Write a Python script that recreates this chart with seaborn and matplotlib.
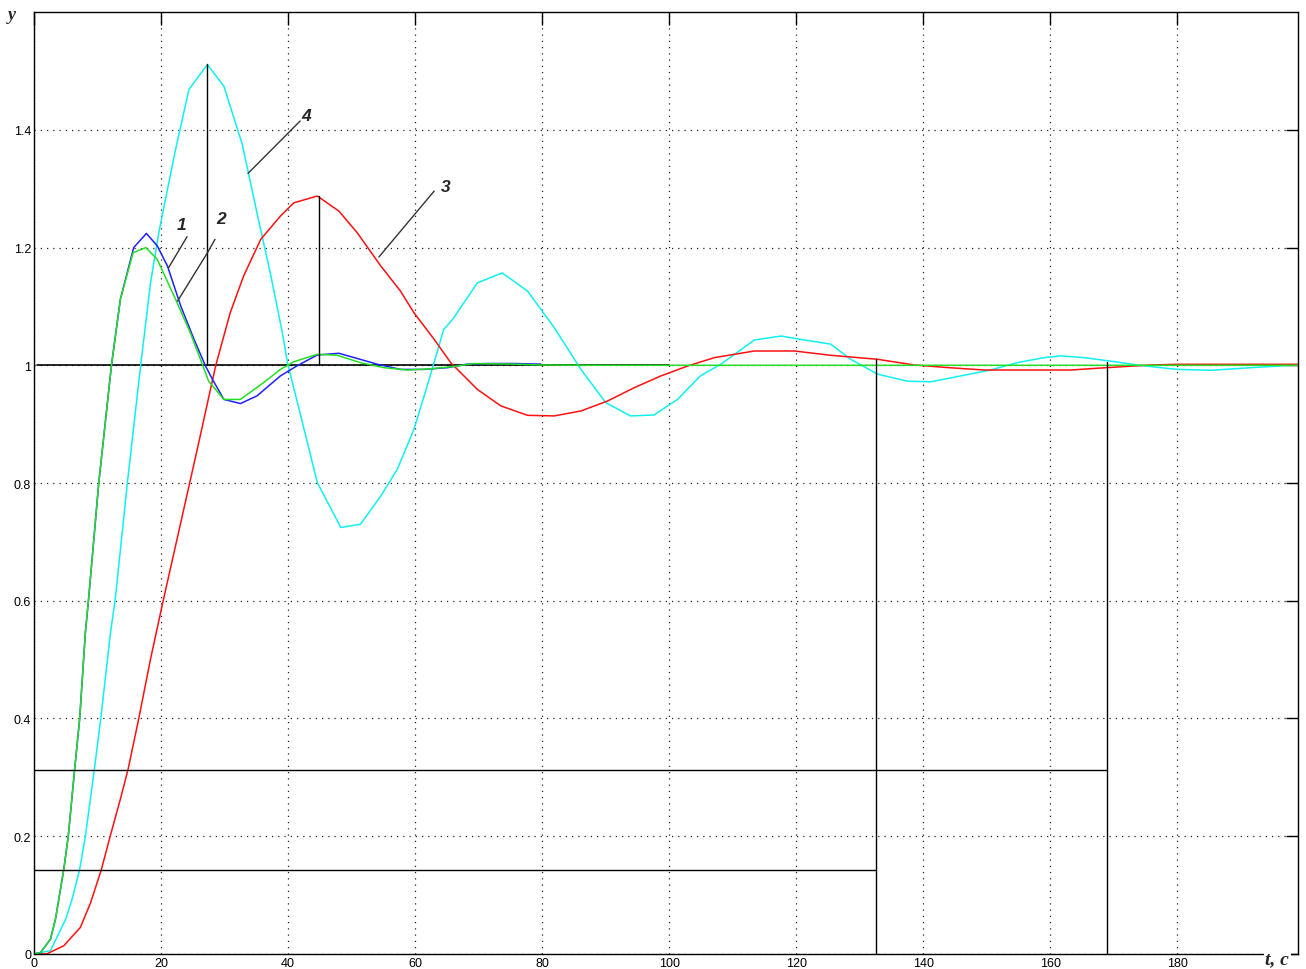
import matplotlib
matplotlib.use("Agg")
import pandas as pd
import matplotlib.pyplot as plt
import seaborn as sns

# ------------------------------
# DATA
# ------------------------------
# curve 1 - blue
t1 = [0, 1, 2.6, 3.4, 4.7, 5.4, 6.4, 7.2, 8.1, 8.6, 10.2, 12.2, 13.6, 15.7,
      17.7, 19.4, 21.0, 23.1, 25.2, 27.0, 28.1, 29.9, 32.5, 35.1, 38.8, 41.4,
      44.6, 48.0, 51.4, 54.0, 57.7, 61.4, 65.1, 68.2, 71.4, 75.6, 79.8]
y1 = [0, 0.002, 0.025, 0.06, 0.144, 0.2, 0.313, 0.40, 0.547, 0.603, 0.80, 1.0,
      1.112, 1.2, 1.224, 1.203, 1.169, 1.101, 1.044, 0.999, 0.976, 0.942,
      0.935, 0.948, 0.982, 0.999, 1.0175, 1.0204, 1.010, 1.002, 0.993, 0.993,
      0.996, 1.002, 1.003, 1.003, 1.002]

# curve 2 - green
t2 = [0, 1, 2.6, 3.4, 4.7, 5.4, 6.4, 7.2, 8.1, 8.6, 10.2, 12.2, 13.6, 15.6,
      17.6, 19.4, 22.3, 24.6, 26.5, 27.5, 29.9, 32.5, 36.2, 38.8, 40.9, 44.6,
      47.7, 51.4, 55.1, 58.8, 62.4, 66.1, 69.3, 75.5, 79.8, 90, 199]
y2 = [0, 0.002, 0.025, 0.06, 0.144, 0.2, 0.313, 0.40, 0.547, 0.603, 0.80, 1.0,
      1.112, 1.191, 1.2, 1.18, 1.112, 1.0555, 1.002, 0.973, 0.942, 0.942,
      0.971, 0.993, 1.006, 1.0187, 1.017, 1.0045, 0.996, 0.992, 0.994, 0.998,
      1.003, 1.002, 1.0005, 1.0, 1.0]

# curve 3 - red
t3 = [0, 2, 4.7, 7.3, 8.9, 10.6, 12.0, 13.6, 14.8, 16.5, 18.35, 20.4, 25.7,
      28.6, 30.9, 33.0, 35.7, 38.8, 40.9, 44.6, 48.0, 50.9, 54.6, 57.7, 59.8,
      63.0, 65.6, 69.8, 73.5, 77.7, 81.9, 86.1, 90.3, 94.5, 98.7, 102.9,
      107.1, 113.4, 119.7, 125.4, 132.8, 138.6, 144.0, 149.6, 154.8, 163.2,
      167.4, 171.6, 175.8, 180.0, 198.9]
y3 = [0, 0, 0.014, 0.045, 0.0866, 0.143, 0.2, 0.263, 0.313, 0.400, 0.501,
      0.603, 0.857, 0.999, 1.0895, 1.1516, 1.214, 1.2535, 1.276, 1.2875,
      1.262, 1.225, 1.1686, 1.126, 1.0895, 1.044, 1.0045, 0.959, 0.931, 0.915,
      0.914, 0.9224, 0.9394, 0.962, 0.982, 0.9988, 1.013, 1.0243, 1.0243,
      1.017, 1.0102, 1.0005, 0.996, 0.992, 0.992, 0.992, 0.995, 0.9978,
      1.0005, 1.0017, 1.0017]

# curve 4 - cyan
t4 = [0, 2.6, 5.0, 6.0, 7.2, 8.1, 9.5, 10.5, 12.05, 12.8, 14.7, 16.8, 18.35,
      19.65, 20.7, 22.3, 24.4, 27.3, 29.9, 32.8, 35.1, 37.2, 39.1, 39.9, 42.0,
      44.6, 48.3, 51.4, 54.6, 57.2, 59.8, 61.9, 64.5, 65.9, 69.8, 73.7, 77.7,
      81.9, 86.1, 90.0, 93.9, 97.6, 101.3, 104.9, 108.1, 113.4, 117.6, 120.7,
      125.4, 128.6, 132.8, 137.5, 141.2, 145.9, 150.6, 154.8, 159.0, 161.6,
      165.3, 169.5, 174.8, 180.0, 185.3, 191.6, 198.9]
y4 = [0, 0.0056, 0.059, 0.093, 0.144, 0.2, 0.313, 0.398, 0.546, 0.603, 0.80,
      1.0, 1.14, 1.225, 1.282, 1.367, 1.4686, 1.511, 1.474, 1.375, 1.259,
      1.157, 1.0555, 1.0045, 0.914, 0.8008, 0.7245, 0.730, 0.778, 0.8234,
      0.891, 0.965, 1.061, 1.078, 1.140, 1.157, 1.126, 1.064, 0.993, 0.9367,
      0.914, 0.9156, 0.942, 0.982, 1.0017, 1.043, 1.0497, 1.044, 1.036, 1.010,
      0.985, 0.973, 0.972, 0.982, 0.992, 1.0045, 1.013, 1.016, 1.013, 1.007,
      0.999, 0.993, 0.9915, 0.996, 1.0005]

# black construction lines
peak_t = [27.3, 44.8]
peak_y = [1.511, 1.2875]
band_t = [132.6, 168.9]
band_y = [0.142, 0.313]
band_top = [1.011, 1.005]
setpoint_end = 100

# curve labels and their leader lines
label_txt = ["1", "2", "3", "4"]
label_t = [23.2, 29.4, 64.8, 42.8]
label_y = [1.239, 1.250, 1.304, 1.425]
leader_t = [[24.1, 21.2], [28.5, 27.3, 22.6], [63.0, 54.3], [41.9, 33.7]]
leader_y = [[1.2185, 1.166], [1.214, 1.191, 1.109], [1.296, 1.184], [1.415, 1.326]]

xticks = [0, 20, 40, 60, 80, 100, 120, 140, 160, 180]
yticks = [0, 0.2, 0.4, 0.6, 0.8, 1.0, 1.2, 1.4]

# ------------------------------
# LONG FORM TABLE
# ------------------------------
frames = []
for name, t, y in [("4", t4, y4), ("3", t3, y3), ("1", t1, y1), ("2", t2, y2)]:
    frames.append(pd.DataFrame({"t": t, "y": y, "curve": name}))
df = pd.concat(frames, ignore_index=True)

palette = {"1": "#2020ff", "2": "#22e022", "3": "#ff1010", "4": "#10f0f0"}

# ------------------------------
# PLOT
# ------------------------------
sns.set_style("white")
plt.rcParams["font.family"] = ["Liberation Sans", "DejaVu Sans"]

fig = plt.figure(figsize=(13.06, 9.70), dpi=100)
ax = fig.add_axes([0.026, 0.0155, 0.968, 0.971])

sns.lineplot(data=df, x="t", y="y", hue="curve", palette=palette,
             hue_order=["4", "3", "1", "2"], estimator=None, sort=False,
             linewidth=1.1, legend=False, ax=ax)

# setpoint line
ax.plot([0.5, setpoint_end], [1, 1], color="black", lw=1.2, zorder=1.5)

# peak markers
for t, y in zip(peak_t, peak_y):
    ax.plot([t, t], [1, y], color="black", lw=1)

# settling bands
for t, y, top in zip(band_t, band_y, band_top):
    ax.plot([0, t], [y, y], color="black", lw=1)
    ax.plot([t, t], [0, top], color="black", lw=1)

# labels
for txt, tx, ty, lt, ly in zip(label_txt, label_t, label_y, leader_t, leader_y):
    ax.plot(lt, ly, color="#333333", lw=1)
    ax.text(tx, ty, txt, fontsize=12.5, fontweight="bold", style="italic",
            ha="center", va="center")

ax.set_xlim(0, 199)
ax.set_ylim(0, 1.6)
ax.set_xticks(xticks)
ax.set_yticks(yticks)
ax.set_xticklabels([f"{v:g}" for v in xticks])
ax.set_yticklabels([f"{v:g}" for v in yticks])
ax.tick_params(direction="in", length=9, width=1, top=True, right=True,
               labelsize=9, pad=2, colors="black")
ax.grid(True, color="#222222", linestyle=(0, (1, 4)), linewidth=0.9)
ax.set_xlabel("")
ax.set_ylabel("")
for s in ax.spines.values():
    s.set_color("black")
    s.set_linewidth(1)

fig.text(0.009, 0.984, "y", fontsize=13, fontweight="bold", style="italic",
         family="Liberation Serif", ha="center", va="center")
fig.text(0.978, 0.011, "t, c", fontsize=14, fontweight="bold", style="italic",
         family="Liberation Serif", ha="center", va="center",
         bbox=dict(facecolor="white", edgecolor="none", pad=1))

fig.savefig("out.png", dpi=100)
